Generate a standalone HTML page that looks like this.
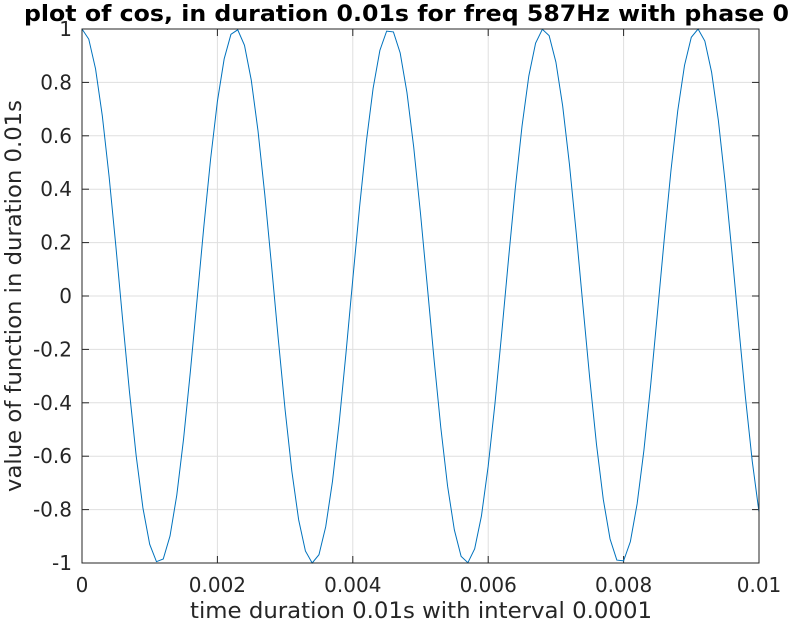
<!DOCTYPE html>
<html><head><meta charset="utf-8"><style>
body{margin:0;background:#fff;}
svg text{font-family:"DejaVu Sans","Liberation Sans",sans-serif;fill:#262626;}
</style></head><body>
<svg id="chart" width="792" height="624" xmlns="http://www.w3.org/2000/svg">
<rect x="0" y="0" width="792" height="624" fill="#fff"/>
<g id="grid"></g>
<g id="ticks"></g>
<path id="line" fill="none" stroke="#0072BD" stroke-width="1"/>
<rect x="82" y="29" width="677" height="534" fill="none" stroke="#262626" stroke-width="1"/>
<text x="24" y="21" font-size="22" font-weight="bold" textLength="765" lengthAdjust="spacingAndGlyphs" style="fill:#000">plot of cos, in duration 0.01s for freq 587Hz with phase 0</text>
<text x="190" y="618" font-size="22" textLength="462" lengthAdjust="spacingAndGlyphs">time duration 0.01s with interval 0.0001</text>
<text transform="translate(21,296) rotate(-90)" text-anchor="middle" font-size="22" textLength="392" lengthAdjust="spacingAndGlyphs">value of function in duration 0.01s</text>
</svg>
<script>
const xTicks=[0,0.002,0.004,0.006,0.008,0.01];
const xTickLabels=["0","0.002","0.004","0.006","0.008","0.01"];
const yTicks=[-1,-0.8,-0.6,-0.4,-0.2,0,0.2,0.4,0.6,0.8,1];
const yTickLabels=["-1","-0.8","-0.6","-0.4","-0.2","0","0.2","0.4","0.6","0.8","1"];
const timeStep=0.0001;
const values=[1,0.962,0.851,0.675,0.448,0.187,-0.088,-0.356,-0.598,-0.794,-0.930,-0.995,-0.985,-0.899,-0.746,-0.536,-0.285,-0.013,0.261,0.514,0.729,0.888,0.980,0.997,0.939,0.809,0.618,0.380,0.113,-0.163,-0.426,-0.657,-0.838,-0.955,-1.000,-0.969,-0.864,-0.694,-0.471,-0.212,0.063,0.333,0.578,0.778,0.920,0.992,0.989,0.910,0.762,0.557,0.309,0.038,-0.237,-0.493,-0.712,-0.876,-0.975,-0.999,-0.947,-0.824,-0.637,-0.403,-0.138,0.138,0.403,0.637,0.824,0.947,0.999,0.975,0.876,0.712,0.493,0.237,-0.038,-0.309,-0.557,-0.762,-0.910,-0.989,-0.992,-0.920,-0.778,-0.578,-0.333,-0.063,0.212,0.471,0.694,0.864,0.969,1.000,0.955,0.838,0.657,0.426,0.163,-0.113,-0.380,-0.618,-0.809];
const X0=82,X1=759,Y0=563,Y1=29;
const xs=v=>X0+(v-0)/(0.01-0)*(X1-X0);
const ys=v=>Y0-(v+1)/2*(Y0-Y1);
const NS="http://www.w3.org/2000/svg";
const grid=document.getElementById('grid'),ticks=document.getElementById('ticks');
function mk(tag,attrs,parent){const e=document.createElementNS(NS,tag);for(const k in attrs)e.setAttribute(k,attrs[k]);parent.appendChild(e);return e;}
xTicks.forEach((t,i)=>{const x=xs(t);
 const g=mk('line',{x1:x,x2:x,y1:Y1,y2:Y0,stroke:'#dfdfdf','stroke-width':1},grid);
 
 
 const tk=mk('line',{x1:x,x2:x,y1:Y0,y2:Y0-7,stroke:'#262626'},ticks);
 
 
 const tk2=mk('line',{x1:x,x2:x,y1:Y1,y2:Y1+7,stroke:'#262626'},ticks);
 
 
 const tx=mk('text',{x:x,y:592,'text-anchor':'middle','font-size':20},ticks);tx.textContent=xTickLabels[i];
 
 
});
yTicks.forEach((t,i)=>{const y=ys(t);
 const g=mk('line',{x1:X0,x2:X1,y1:y,y2:y,stroke:'#dfdfdf','stroke-width':1},grid);
 
 
 const tk=mk('line',{x1:X0,x2:X0+7,y1:y,y2:y,stroke:'#262626'},ticks);
 
 
 const tk2=mk('line',{x1:X1,x2:X1-7,y1:y,y2:y,stroke:'#262626'},ticks);
 
 
 const tx=mk('text',{x:72,y:y+7,'text-anchor':'end','font-size':20},ticks);tx.textContent=yTickLabels[i];
 
 
});
document.getElementById('line').setAttribute('d',values.map((v,i)=>(i?'L':'M')+xs(i*timeStep).toFixed(2)+','+ys(v).toFixed(2)).join(''));
</script>
</body></html>
